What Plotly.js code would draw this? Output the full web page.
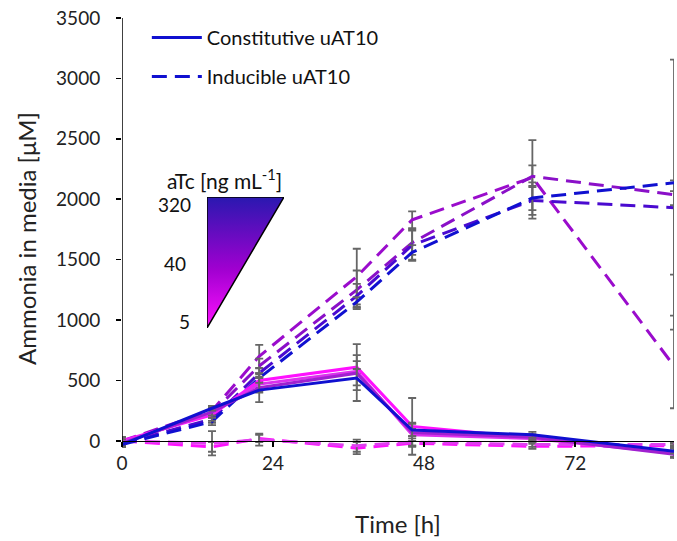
<!DOCTYPE html>
<html>
<head>
<meta charset="utf-8">
<script src="https://cdn.plot.ly/plotly-3.0.1.min.js"></script>
<style>html,body{margin:0;padding:0;background:#fff;}#chart{width:677px;height:541px;}</style>
</head>
<body>
<div id="chart"></div>
<script>
// Sampling times [h]
var times = [0, 14.3, 21.8, 37.3, 46.1, 65.2, 87.7];

// Inducible uAT10 (dashed), by aTc concentration [ng/mL]
var ind320 = [-30, 160, 520, 1150, 1560, 2010, 2136];
var ind160 = [-20, 180, 560, 1200, 1620, 1990, 1930];
var ind80  = [-10, 230, 620, 1250, 1640, 2190, 2037];
var ind40  = [0, 250, 700, 1360, 1830, 2180, 620];
var ind10  = [0, -20, 10, -40, -10, -30, -30];
var ind5   = [0, -50, 20, -60, -20, -45, -40];

// Constitutive uAT10 (solid)
var con320 = [-30, 270, 420, 520, 90, 50, -85];
var con80  = [-20, 240, 440, 560, 70, 30, -110];
var con20  = [-10, 230, 470, 575, 50, 20, -100];
var con5   = [0, 215, 500, 610, 120, 25, -95];

// Error bars (upper / lower)
var eInd320Up = [20, 30, 30, 40, 60, 100, 20],  eInd320Dn = [20, 30, 30, 40, 60, 100, 760];
var eInd160Up = [20, 30, 40, 100, 130, 150, 20], eInd160Dn = [20, 30, 40, 100, 130, 150, 1010];
var eInd80Up  = [20, 30, 60, 160, 100, 90, 30],  eInd80Dn  = [20, 30, 60, 160, 100, 90, 1000];
var eInd40Up  = [20, 30, 95, 230, 70, 310, 2535], eInd40Dn = [20, 30, 95, 230, 70, 310, 350];
var eInd10 = [30, 100, 50, 50, 30, 20, 20];
var eInd5  = [30, 40, 30, 50, 20, 20, 20];
var eCon320 = [20, 20, 100, 190, 50, 25, 20];
var eCon80  = [30, 30, 40, 100, 30, 20, 20];
var eCon20  = [20, 40, 60, 20, 100, 20, 40];
var eCon5   = [30, 50, 60, 190, 235, 30, 60];

// aTc key
var atcLabels = ['320', '40', '5'];
var keyX = [0, 1, 0, 0];
var keyY = [1, 1, 0, 1];

var FONT = 'Lato, "Open Sans", sans-serif';
var DASH = '15px,8px';
var ERRC = '#666666';

function err(up, dn) {
  var e = {type: 'data', array: up, color: ERRC, thickness: 1.8, width: 4, visible: true};
  if (dn) { e.symmetric = false; e.arrayminus = dn; }
  return e;
}
function tr(y, color, dash, e, opts) {
  var t = {
    x: times, y: y, type: 'scatter', mode: 'lines',
    line: {color: color, width: 3, dash: dash},
    error_y: e, showlegend: false, hoverinfo: 'skip'
  };
  for (var k in opts) t[k] = opts[k];
  return t;
}

var data = [
  tr(ind5,   '#ff10ff', DASH, err(eInd5)),
  tr(ind10,  '#e040f0', DASH, err(eInd10)),
  tr(ind40,  '#9a0ccc', DASH, err(eInd40Up, eInd40Dn)),
  tr(ind80,  '#8a10c8', DASH, err(eInd80Up, eInd80Dn)),
  tr(ind160, '#4a0ad0', DASH, err(eInd160Up, eInd160Dn)),
  tr(ind320, '#1010d0', DASH, err(eInd320Up, eInd320Dn),
     {name: 'Inducible uAT10', showlegend: true, legendgroup: 'i', legendrank: 2}),
  tr(con5,   '#ff10ff', 'solid', err(eCon5)),
  tr(con20,  '#dd30ee', 'solid', err(eCon20)),
  tr(con80,  '#a020d0', 'solid', err(eCon80)),
  tr(con320, '#1010d0', 'solid', err(eCon320),
     {name: 'Constitutive uAT10', showlegend: true, legendgroup: 'c', legendrank: 1}),
  {
    x: keyX, y: keyY, xaxis: 'x2', yaxis: 'y2', type: 'scatter', mode: 'lines',
    fill: 'toself', line: {color: '#000', width: 1.5},
    fillgradient: {type: 'vertical', colorscale: [[0, '#ff10ff'], [0.45, '#a000d0'], [1, '#2a18b0']]},
    showlegend: false, hoverinfo: 'skip'
  }
];

var layout = {
  width: 677, height: 541,
  margin: {l: 122, r: 3, t: 18, b: 82},
  paper_bgcolor: '#fff', plot_bgcolor: '#fff',
  font: {family: FONT, size: 19, color: '#222'},
  showlegend: true,
  legend: {
    x: 0.045, y: 1.0, xanchor: 'left', yanchor: 'top',
    font: {family: FONT, size: 20, color: '#111'},
    bgcolor: 'rgba(0,0,0,0)', itemwidth: 50, tracegroupgap: 10
  },
  xaxis: {
    range: [0, 87.7], tickvals: [0, 24, 48, 72], ticktext: ['0', '24', '48', '72'],
    showgrid: false, zeroline: false, showline: true, linecolor: '#000', linewidth: 1.5,
    ticks: 'outside', ticklen: 5, tickcolor: '#000', tickwidth: 1.5,
    anchor: 'free', position: 150 / 3650,
    tickfont: {family: FONT, size: 19, color: '#222'},
    title: {text: 'Time [h]', font: {family: FONT, size: 24, color: '#222'}, standoff: 43}
  },
  yaxis: {
    range: [-150, 3500], tickvals: [0, 500, 1000, 1500, 2000, 2500, 3000, 3500],
    showgrid: false, zeroline: false, showline: false,
    ticks: 'outside', ticklen: 5, tickcolor: '#000', tickwidth: 1.5, ticklabelstandoff: 12,
    tickfont: {family: FONT, size: 19, color: '#222'},
    title: {text: 'Ammonia in media [μM]', font: {family: FONT, size: 24, color: '#222'}, standoff: 12}
  },
  xaxis2: {domain: [0.154, 0.2935], range: [0, 1], anchor: 'y2', visible: false, fixedrange: true},
  yaxis2: {domain: [0.297, 0.594], range: [0, 1], anchor: 'x2', visible: false, fixedrange: true},
  shapes: [
    {type: 'line', xref: 'x', yref: 'y', x0: 0, x1: 0, y0: 0, y1: 3500, line: {color: '#000', width: 1.5}, layer: 'above'}
  ],
  annotations: [
    {text: 'aTc [ng mL<sup>-1</sup>]', xref: 'paper', yref: 'paper', x: 0.186, y: 0.635, xanchor: 'center', yanchor: 'middle', showarrow: false, font: {family: FONT, size: 21, color: '#111'}},
    {text: atcLabels[0], xref: 'paper', yref: 'paper', x: 0.129, y: 0.576, xanchor: 'right', yanchor: 'middle', showarrow: false, font: {family: FONT, size: 19, color: '#111'}},
    {text: atcLabels[1], xref: 'paper', yref: 'paper', x: 0.12, y: 0.444, xanchor: 'right', yanchor: 'middle', showarrow: false, font: {family: FONT, size: 19, color: '#111'}},
    {text: atcLabels[2], xref: 'paper', yref: 'paper', x: 0.127, y: 0.311, xanchor: 'right', yanchor: 'middle', showarrow: false, font: {family: FONT, size: 19, color: '#111'}}
  ]
};

Plotly.newPlot('chart', data, layout, {staticPlot: true});
</script>
</body>
</html>
